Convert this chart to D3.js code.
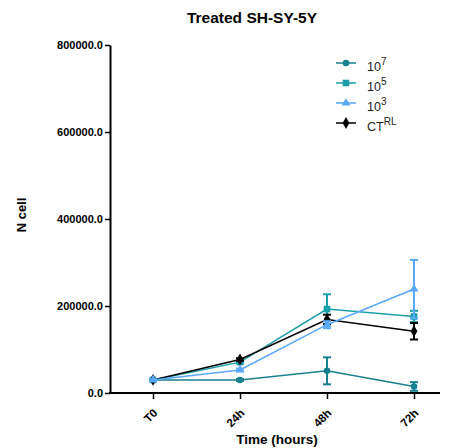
<!DOCTYPE html>
<html>
<head>
<meta charset="utf-8">
<script src="https://cdn.jsdelivr.net/npm/d3@7"></script>
<style>
  body { margin: 0; background: #fff; }
  text { font-family: "Liberation Sans", Arial, sans-serif; }
</style>
</head>
<body>
<figure id="chart" style="margin:0"></figure>
<script>
// data
const timePoints = ['T0', '24h', '48h', '72h'];
const yTicks = [0, 200000, 400000, 600000, 800000];

const mean107 = [30000, 30000, 51000, 15000];
const err107 = [2000, 2000, 31000, 10000];
const mean105 = [30000, 71000, 193000, 176000];
const err105 = [2000, 3000, 34000, 13000];
const mean103 = [30000, 53000, 157000, 239000];
const err103 = [2000, 3000, 8000, 67000];
const meanCT = [30000, 77000, 169000, 142000];
const errCT = [2000, 3000, 11000, 19000];

const width = 450;
const height = 448;

const svg = d3.select('figure#chart')
  .append('svg')
  .attr('width', width)
  .attr('height', height);

const x = d3.scalePoint()
  .domain(timePoints)
  .range([153, 414]);

const y = d3.scaleLinear()
  .domain([0, 800000])
  .range([393, 45]);

// title
svg.append('text')
  .attr('x', 252)
  .attr('y', 23)
  .attr('text-anchor', 'middle')
  .attr('font-size', 15.5)
  .attr('font-weight', 'bold')
  .text('Treated SH-SY-5Y');

// y axis
const yAxis = svg.append('g')
  .attr('transform', 'translate(110,0)')
  .call(d3.axisLeft(y).tickValues(yTicks).tickFormat(d3.format('.1f')).tickSize(5).tickSizeOuter(0));
yAxis.select('.domain').attr('stroke-width', 2);
yAxis.selectAll('.tick line').attr('stroke-width', 1.5);
yAxis.selectAll('text')
  .attr('font-size', 11)
  .attr('font-weight', 'bold')
  .attr('font-family', '"Liberation Sans", Arial, sans-serif')
  .attr('x', -7);

// x axis
const xAxis = svg.append('g')
  .attr('transform', 'translate(0,393)')
  .call(d3.axisBottom(x).tickSize(6).tickSizeOuter(0));
xAxis.select('.domain').remove();
xAxis.append('line')
  .attr('x1', 109).attr('x2', 440)
  .attr('stroke', '#000').attr('stroke-width', 2);
xAxis.selectAll('.tick line').attr('stroke-width', 1.5);
xAxis.selectAll('text')
  .attr('font-size', 11.5)
  .attr('font-weight', 'bold')
  .attr('font-family', '"Liberation Sans", Arial, sans-serif')
  .attr('text-anchor', 'end')
  .attr('transform', 'translate(2,18) rotate(-45)')
  .attr('dy', '0.35em')
  .attr('y', 0);

// axis titles
svg.append('text')
  .attr('transform', 'translate(26,215) rotate(-90)')
  .attr('text-anchor', 'middle')
  .attr('font-size', 13)
  .attr('font-weight', 'bold')
  .text('N cell');

svg.append('text')
  .attr('x', 277)
  .attr('y', 444)
  .attr('text-anchor', 'middle')
  .attr('font-size', 13.5)
  .attr('font-weight', 'bold')
  .text('Time (hours)');

const series = [
  { name: '10', sup: '7', mean: mean107, err: err107, color: '#17808f', symbol: d3.symbolCircle, size: 34 },
  { name: '10', sup: '5', mean: mean105, err: err105, color: '#1a9faa', symbol: d3.symbolSquare, size: 44 },
  { name: 'CT', sup: 'RL', mean: meanCT, err: errCT, color: '#000000', symbol: d3.symbolDiamond, size: 40 },
  { name: '10', sup: '3', mean: mean103, err: err103, color: '#5aa8fa', symbol: d3.symbolTriangle, size: 34 }
];

const line = d3.line()
  .x((d, i) => x(timePoints[i]))
  .y(d => y(d));

series.forEach(s => {
  const g = svg.append('g');
  g.append('path')
    .datum(s.mean)
    .attr('fill', 'none')
    .attr('stroke', s.color)
    .attr('stroke-width', 1.5)
    .attr('d', line);

  const bars = g.selectAll('.eb')
    .data(s.mean.map((m, i) => ({ m, e: s.err[i], t: timePoints[i] })))
    .enter().append('g');
  bars.append('line')
    .attr('x1', d => x(d.t)).attr('x2', d => x(d.t))
    .attr('y1', d => y(d.m - d.e)).attr('y2', d => y(d.m + d.e))
    .attr('stroke', s.color).attr('stroke-width', 2);
  [-1, 1].forEach(k => {
    bars.append('line')
      .attr('x1', d => x(d.t) - 4).attr('x2', d => x(d.t) + 4)
      .attr('y1', d => y(d.m + k * d.e)).attr('y2', d => y(d.m + k * d.e))
      .attr('stroke', s.color).attr('stroke-width', 2);
  });

  g.selectAll('.pt')
    .data(s.mean)
    .enter().append('path')
    .attr('transform', (d, i) => `translate(${x(timePoints[i])},${y(d)})`)
    .attr('d', d3.symbol().type(s.symbol).size(s.size))
    .attr('fill', s.color);
});

// legend
const legendOrder = [series[0], series[1], series[3], series[2]];
const legend = svg.append('g');
legendOrder.forEach((s, i) => {
  const ly = 63 + i * 20;
  legend.append('line')
    .attr('x1', 336).attr('x2', 356)
    .attr('y1', ly).attr('y2', ly)
    .attr('stroke', s.color).attr('stroke-width', 1.5);
  legend.append('path')
    .attr('transform', `translate(346,${ly})`)
    .attr('d', d3.symbol().type(s.symbol).size(s.size))
    .attr('fill', s.color);
  const t = legend.append('text')
    .attr('x', 367)
    .attr('y', ly + 8)
    .attr('font-size', 12.5)
    .attr('fill', '#222');
  t.append('tspan').text(s.name);
  t.append('tspan')
    .attr('dy', -6)
    .attr('font-size', 10)
    .text(s.sup);
});
</script>
</body>
</html>
